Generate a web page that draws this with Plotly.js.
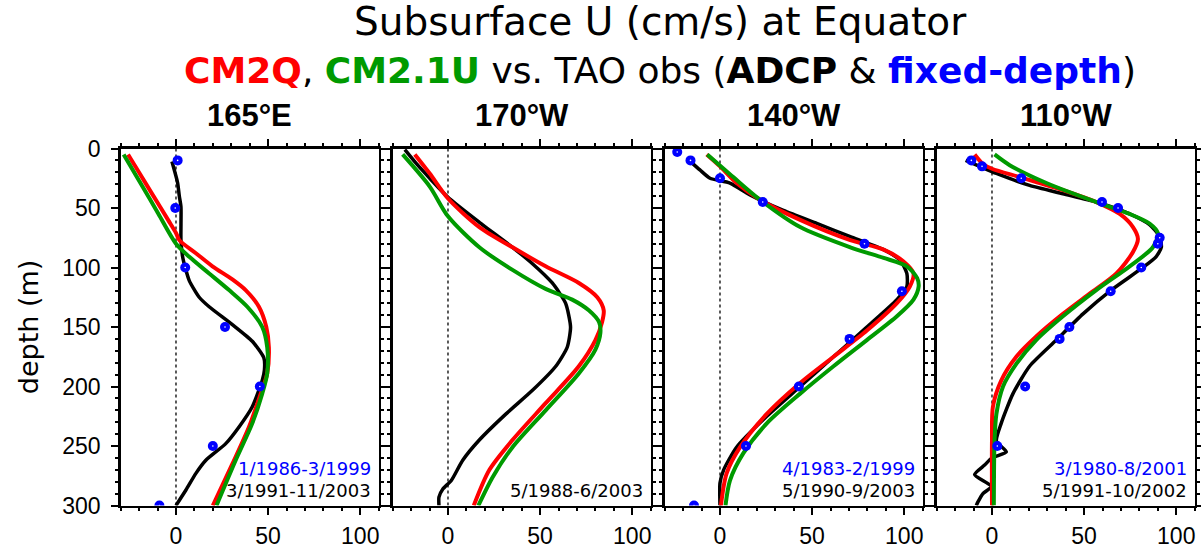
<!DOCTYPE html>
<html>
<head>
<meta charset="utf-8">
<script src="https://cdn.plot.ly/plotly-3.0.1.min.js"></script>
<style>html,body{margin:0;padding:0;background:#fff;}</style>
</head>
<body>
<div id="chart" style="width:1201px;height:549px;"></div>
<script>
// ---------- data (depth in m, U in cm/s) ----------
const panelLabels = ["165°E", "170°W", "140°W", "110°W"];
const fixedPeriods = ["1/1986-3/1999", "", "4/1983-2/1999", "3/1980-8/2001"];
const adcpPeriods = ["3/1991-11/2003", "5/1988-6/2003", "5/1990-9/2003", "5/1991-10/2002"];

// 165E
const p1RedD = [5, 20, 40, 60, 71, 77, 88, 99, 110, 119, 133, 150, 167, 189, 206, 234, 265, 300];
const p1RedU = [-26, -20.1, -12.2, -4.3, 0, 1.8, 10.8, 19.8, 30.6, 37.8, 45, 49, 50.4, 49.5, 46, 39.6, 30.6, 20];
const p1GrnD = [5, 30, 55, 80, 91, 105, 119, 133, 150, 167, 189, 206, 231, 262, 300];
const p1GrnU = [-28.4, -18.9, -9.5, 0, 7.2, 18, 28.8, 38.7, 46.8, 49.5, 49.5, 46.8, 41.4, 32.4, 22];
const p1BlkD = [11, 29, 40, 49, 77, 91, 100, 111, 125, 133, 148, 162, 176, 186, 195, 217, 234, 248, 262, 273, 287, 300];
const p1BlkU = [-2.2, 0.9, 1.8, 2.7, 2.7, 3.6, 5, 7.2, 12.6, 18, 30.6, 41.4, 47.7, 48, 46.8, 41.4, 34.2, 27, 16.2, 10.8, 5.4, 0];
const p1BluD = [10, 50, 100, 150, 200, 250, 300];
const p1BluU = [0.9, -0.4, 5, 26.6, 45.5, 20, -9];

// 170W
const p2RedD = [5, 21, 42, 66, 83, 99, 113, 125, 136, 146, 161, 183, 214, 245, 270, 300];
const p2RedU = [-18, -9.9, 0, 17, 35, 53, 71, 81, 84.5, 83.6, 80, 71, 53, 35, 22.5, 14];
const p2GrnD = [5, 32, 57, 83, 102, 118, 127, 136, 146, 155, 169, 189, 220, 251, 276, 300];
const p2GrnU = [-24.6, -9.9, 0, 17, 35, 53, 67.4, 76.4, 82, 82.7, 80, 71, 53, 35, 24.3, 16.5];
const p2BlkD = [1, 13, 25, 41, 62, 83, 97, 113, 130, 150, 167, 183, 203, 223, 245, 262, 279, 286, 293, 300];
const p2BlkU = [-23.4, -17, -9.9, 0, 17, 35, 46, 56.6, 63.8, 66.5, 64.7, 58.5, 46, 31.5, 17, 8, 1.8, -2.7, -4.9, -4.9];
const p2BluD = [];
const p2BluU = [];

// 140W
const p3RedD = [5, 15, 29, 43, 60, 77, 85, 95, 105, 116, 130, 153, 175, 197, 223, 251, 273, 300];
const p3RedU = [-7.2, 0, 9, 21.7, 43.5, 70.7, 88.8, 99.6, 105, 103, 96, 79.7, 61.6, 43.5, 25.4, 10.9, 3.6, 0.5];
const p3GrnD = [5, 24, 43, 66, 83, 92, 99, 109, 116, 127, 141, 161, 183, 206, 231, 256, 279, 300];
const p3GrnU = [-6.9, 7.2, 21.7, 43.5, 70.7, 88.8, 101.4, 107, 107.8, 105, 96, 79.7, 61.6, 43.5, 25.4, 12.7, 5.4, 3];
const p3BlkD = [11, 18, 25, 29, 39, 52, 63, 74, 85, 94, 105, 116, 127, 150, 175, 200, 225, 251, 270, 281, 300];
const p3BlkU = [-16, -10.9, -5.4, 5.4, 16.3, 34.4, 52.5, 70.7, 88.8, 97.8, 101.4, 101.4, 96, 79.7, 61.6, 43.5, 25.4, 9, 2, 0, 0];
const p3BluD = [3, 10, 25, 45, 80, 120, 160, 200, 250, 300];
const p3BluU = [-23.2, -16, 0, 23.2, 78.4, 98.7, 70.3, 42.8, 14.1, -14.1];

// 110W
const p4RedD = [5, 13, 17, 24, 35, 45, 55, 66, 76, 87, 105, 122, 139, 158, 175, 195, 217, 245, 300];
const p4RedU = [-9.4, -4.9, 0, 15, 38.5, 56.6, 69.3, 76.5, 79.2, 76.5, 67.5, 53, 38.5, 24, 13.2, 5, 0.5, 0, 0];
const p4GrnD = [5, 14, 29, 45, 55, 63, 71, 83, 99, 119, 141, 161, 181, 200, 223, 245, 300];
const p4GrnU = [1.4, 9.6, 29.5, 56.6, 74.7, 85.5, 90, 87.3, 74.7, 56.6, 38.5, 24, 13.2, 6, 2.4, 1.4, 1];
const p4BlkD = [10, 15, 21, 31, 38, 45, 55, 64, 74, 83, 91, 101, 119, 139, 161, 183, 206, 231, 246, 255, 260, 266, 274, 284, 290, 297, 300];
const p4BlkU = [-14.3, -6.7, 2.4, 20.4, 38.5, 56.6, 74.7, 85.5, 91, 91.9, 89, 81, 64.7, 49.4, 34.9, 20.4, 11.4, 5, 2.4, 7.8, 0, -4, -9.4, -0.4, -4.9, -7.6, -8.5];
const p4BluD = [10, 15, 25, 45, 50, 75, 80, 100, 120, 150, 160, 200, 250];
const p4BluU = [-11.2, -5.4, 15.9, 59.7, 68.4, 91, 90, 81, 64.4, 42, 36.7, 18, 2.9];

// ---------- build ----------
const panels = [
  {red:[p1RedU,p1RedD], grn:[p1GrnU,p1GrnD], blk:[p1BlkU,p1BlkD], blu:[p1BluU,p1BluD]},
  {red:[p2RedU,p2RedD], grn:[p2GrnU,p2GrnD], blk:[p2BlkU,p2BlkD], blu:[p2BluU,p2BluD]},
  {red:[p3RedU,p3RedD], grn:[p3GrnU,p3GrnD], blk:[p3BlkU,p3BlkD], blu:[p3BluU,p3BluD]},
  {red:[p4RedU,p4RedD], grn:[p4GrnU,p4GrnD], blk:[p4BlkU,p4BlkD], blu:[p4BluU,p4BluD]}
];

const W = 1201, H = 549;
const RED = '#ff0000', GRN = '#009a00', BLU = '#0000ff';
const traces = [];
const layout = {
  width: W, height: H, autosize: false,
  margin: {l: 0, r: 0, t: 0, b: 0},
  paper_bgcolor: '#fff', plot_bgcolor: '#fff',
  showlegend: false,
  font: {family: 'Liberation Sans, Arial, sans-serif', color: '#000'},
  annotations: [], shapes: []
};

const yDom = [1 - 505.5 / H, 1 - 148.5 / H];

panels.forEach((p, i) => {
  const n = i + 1;
  const xa = 'x' + (n === 1 ? '' : n), ya = 'y' + (n === 1 ? '' : n);
  const xL = 120.7 + 272 * i, xR = xL + 258;
  const common = {
    showgrid: false, zeroline: false, showline: true, linewidth: 2.5, linecolor: '#000',
    mirror: 'allticks', ticks: 'outside', ticklen: 7, tickwidth: 2, tickcolor: '#000',
    tick0: 0, dtick: 50,
    minor: {dtick: 10, ticks: 'outside', ticklen: 3, tickwidth: 2, tickcolor: '#000', showgrid: false},
    tickfont: {family: 'Liberation Sans, Arial, sans-serif', size: 23, color: '#000'},
    fixedrange: true
  };
  layout['xaxis' + (n === 1 ? '' : n)] = Object.assign({}, common, {
    domain: [xL / W, xR / W], range: [-30, 110], anchor: ya, ticklabelstandoff: 1
  });
  const yax = Object.assign({}, common, {
    domain: yDom, range: [300, 0], anchor: xa, showticklabels: n === 1, ticklabelstandoff: 6
  });
  if (n === 1) {
    yax.title = {text: 'depth (m)', font: {family: 'DejaVu Sans', size: 27, color: '#000'}, standoff: 16};
  }
  layout['yaxis' + (n === 1 ? '' : n)] = yax;

  // zero line
  layout.shapes.push({type: 'line', xref: xa, yref: ya, x0: 0, x1: 0, y0: 0, y1: 300,
    line: {color: '#000', width: 1.3, dash: 'dot'}, layer: 'below'});

  const base = {xaxis: xa, yaxis: ya, mode: 'lines', hoverinfo: 'skip'};
  traces.push(Object.assign({}, base, {x: p.blk[0], y: p.blk[1], line: {color: '#000', width: 3.5, shape: 'spline', smoothing: 0.6}}));
  traces.push(Object.assign({}, base, {x: p.red[0], y: p.red[1], line: {color: RED, width: 4, shape: 'spline', smoothing: 0.8}}));
  traces.push(Object.assign({}, base, {x: p.grn[0], y: p.grn[1], line: {color: GRN, width: 4, shape: 'spline', smoothing: 0.8}}));
  if (p.blu[0].length) {
    traces.push({xaxis: xa, yaxis: ya, mode: 'markers', x: p.blu[0], y: p.blu[1], hoverinfo: 'skip',
      marker: {color: BLU, size: 10, line: {width: 0}}});
    traces.push({xaxis: xa, yaxis: ya, mode: 'markers', x: p.blu[0], y: p.blu[1], hoverinfo: 'skip',
      marker: {color: '#fff', size: 1.6, line: {width: 0}}});
  }

  // panel label
  layout.annotations.push({xref: 'paper', yref: 'paper', x: (xL + 129) / W, y: 1 - 116 / H,
    xanchor: 'center', yanchor: 'middle', showarrow: false,
    text: '<b>' + panelLabels[i] + '</b>',
    font: {family: 'Liberation Sans, Arial, sans-serif', size: 31, color: '#000'}});
  // periods
  if (fixedPeriods[i]) {
    layout.annotations.push({xref: xa, yref: ya, x: 107, y: 268.5, xanchor: 'right', yanchor: 'middle',
      showarrow: false, text: fixedPeriods[i], font: {family: 'DejaVu Sans', size: 18, color: BLU}});
  }
  layout.annotations.push({xref: xa, yref: ya, x: 107, y: 287, xanchor: 'right', yanchor: 'middle',
    showarrow: false, text: adcpPeriods[i], font: {family: 'DejaVu Sans', size: 18, color: '#000'}});
});

// titles
layout.annotations.push({xref: 'paper', yref: 'paper', x: 660 / W, y: 1 - 21 / H,
  xanchor: 'center', yanchor: 'middle', showarrow: false,
  text: 'Subsurface U (cm/s) at Equator',
  font: {family: 'DejaVu Sans', size: 39, color: '#000'}});
layout.annotations.push({xref: 'paper', yref: 'paper', x: 660 / W, y: 1 - 70 / H,
  xanchor: 'center', yanchor: 'middle', showarrow: false,
  text: '<span style="color:' + RED + '"><b>CM2Q</b></span>, <span style="color:' + GRN + '"><b>CM2.1U</b></span> vs. TAO obs (<b>ADCP</b> &amp; <span style="color:' + BLU + '"><b>fixed-depth</b></span>)',
  font: {family: 'DejaVu Sans', size: 36, color: '#000'}});

Plotly.newPlot('chart', traces, layout, {staticPlot: true, displayModeBar: false});
</script>
</body>
</html>
